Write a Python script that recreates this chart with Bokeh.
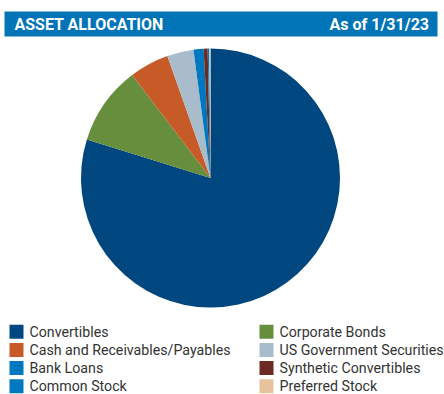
import math
from bokeh.plotting import figure
from bokeh.models import Range1d
from bokeh.core.properties import value
from bokeh.embed import file_html
from bokeh.resources import INLINE

# ---- data ----
title = "ASSET ALLOCATION"
as_of = "As of 1/31/23"
categories = ["Convertibles", "Corporate Bonds", "Cash and Receivables/Payables",
              "US Government Securities", "Bank Loans", "Synthetic Convertibles",
              "Common Stock", "Preferred Stock"]
values = [79.8, 9.85, 4.95, 3.3, 1.25, 0.5, 0.2, 0.15]
colors = ["#00477F", "#668E3C", "#C75B28", "#A9BCCB", "#0078C0", "#6A2B22",
          "#0079C1", "#E8C29D"]
# legend order (two columns, row by row)
legend_order = ["Convertibles", "Corporate Bonds", "Cash and Receivables/Payables",
                "US Government Securities", "Bank Loans", "Synthetic Convertibles",
                "Common Stock", "Preferred Stock"]

W, H = 444, 394

p = figure(width=W, height=H, output_backend="svg", toolbar_location=None,
           x_range=Range1d(0, W), y_range=Range1d(0, H), min_border=0)
p.axis.visible = False
p.grid.visible = False
p.outline_line_color = None
p.background_fill_color = "white"
p.border_fill_color = "white"

def fy(page_y):
    return H - page_y

def fx(page_x):
    return page_x

# ---- header ----
p.quad(left=[fx(4)], right=[fx(437)], top=[fy(11)], bottom=[fy(36)],
       fill_color="#0074B7", line_color=None)
p.text(x=[fx(14)], y=[fy(24)], text=[title], text_color="white",
       text_font=value("Roboto"), text_font_style="bold", text_font_size="16px",
       text_baseline="middle", text_align="left")
p.text(x=[fx(428.5)], y=[fy(24)], text=[as_of], text_color="white",
       text_font=value("Roboto"), text_font_style="bold", text_font_size="16px",
       text_baseline="middle", text_align="right")

# ---- pie ----
total = sum(values)
starts, ends = [], []
cum = 0.0
for v in values:
    starts.append(math.pi / 2 - 2 * math.pi * cum / total)
    cum += v
    ends.append(math.pi / 2 - 2 * math.pi * cum / total)
cx, cy, r = fx(210), fy(177.5), 129.5
p.wedge(x=[cx] * len(values), y=[cy] * len(values), radius=r,
        start_angle=starts, end_angle=ends, direction="clock",
        fill_color=colors, line_color=None)

# ---- legend ----
col_x = [fx(9), fx(259)]
row_y = [331.3, 349.5, 367.5, 385.7]
color_of = dict(zip(categories, colors))
lx, ly, lc, tx = [], [], [], []
for i, name in enumerate(legend_order):
    c = i % 2
    rw = i // 2
    lx.append(col_x[c] + 7)
    ly.append(fy(row_y[rw]))
    lc.append(color_of[name])
    tx.append(col_x[c] + 20)
p.rect(x=lx, y=ly, width=14, height=14, width_units="screen", height_units="screen",
       fill_color=lc, line_color=None)
p.text(x=tx, y=ly, text=legend_order, text_color="#333333",
       text_font=value("Roboto"), text_font_size="14.2px",
       text_baseline="middle", text_align="left")

open("out.html", "w").write(file_html(p, INLINE))
